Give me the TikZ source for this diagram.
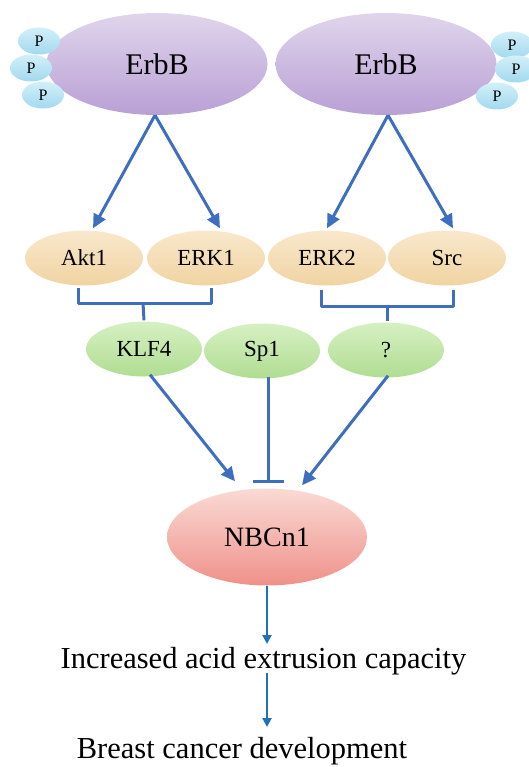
\documentclass[tikz,border=0pt]{standalone}
\usepackage{fontspec}
\setmainfont{Liberation Serif}
\usetikzlibrary{shapes.geometric,arrows.meta,calc}
\definecolor{arrowblue}{HTML}{3D6EC0}
\definecolor{lowblue}{HTML}{2270B8}
\definecolor{purpL}{HTML}{E0D5EC}
\definecolor{purpD}{HTML}{B9A0D5}
\definecolor{cyanL}{HTML}{D2F0F9}
\definecolor{cyanD}{HTML}{A2D9EE}
\definecolor{orangeL}{HTML}{F9E8CC}
\definecolor{orangeD}{HTML}{F0D3A2}
\definecolor{greenL}{HTML}{D6F0C2}
\definecolor{greenD}{HTML}{B0DD92}
\definecolor{pinkL}{HTML}{FADAD4}
\definecolor{pinkD}{HTML}{EF918A}
\tikzset{
  blob/.style={ellipse, inner sep=0pt, shading=axis, shading angle=-40, text=black},
  erbb/.style={blob, minimum width=221pt, minimum height=102pt, top color=purpL, bottom color=purpD, font=\fontsize{30}{32}\selectfont},
  pnode/.style={blob, minimum width=42pt, minimum height=27pt, top color=cyanL, bottom color=cyanD, font=\fontsize{16}{18}\selectfont},
  kin/.style={blob, minimum width=118pt, minimum height=55pt, top color=orangeL, bottom color=orangeD, font=\fontsize{23}{25}\selectfont},
  tf/.style={blob, minimum width=116pt, minimum height=55pt, top color=greenL, bottom color=greenD, font=\fontsize{23}{25}\selectfont},
  nbc/.style={blob, minimum width=200pt, minimum height=97pt, top color=pinkL, bottom color=pinkD, font=\fontsize{28}{30}\selectfont},
  outtext/.style={anchor=base, inner sep=0pt, font=\fontsize{30.5}{33}\selectfont},
  act/.style={draw=arrowblue, line width=3pt, -{Triangle[length=14pt,width=13pt]}},
  inh/.style={draw=arrowblue, line width=3pt, -{Bar[width=31pt]}},
  brk/.style={draw=arrowblue, line width=3pt, line join=round},
  lowarr/.style={draw=lowblue, line width=2.2pt, -{Triangle[length=9pt,width=9pt]}}
}
\begin{document}
\begin{tikzpicture}[x=1pt,y=-1pt]
\useasboundingbox (0,0) rectangle (528,767);
% receptors
\node[erbb] (erbL) at (157,64) {ErbB};
\node[erbb] (erbR) at (386,64) {ErbB};
\node[pnode] (pl1) at (39,41) {P};
\node[pnode] (pl2) at (31,68) {P};
\node[pnode] (pl3) at (43,95) {P};
\node[pnode] (pr1) at (512,45) {P};
\node[pnode] (pr2) at (516,69) {P};
\node[pnode] (pr3) at (497,96) {P};
% kinases
\node[kin] (akt) at (84,258) {Akt1};
\node[kin] (erk1) at (206,258) {ERK1};
\node[kin] (erk2) at (327,258) {ERK2};
\node[kin] (src) at (447,258) {Src};
% transcription factors
\node[tf] (klf) at (144,349) {KLF4};
\node[tf] (sp) at (262,351) {Sp1};
\node[tf] (unk) at (386,350) {?};
% NBCn1
\node[nbc] (nbc) at (267,537) {NBCn1};
% outputs
\node[outtext] (acid) at (263.5,668) {Increased acid extrusion capacity};
\node[outtext] (bc) at (242,758) {Breast cancer development};
% ErbB -> kinases
\draw[act] ([xshift=-2pt]erbL.south) -- ([xshift=9pt,yshift=2pt]akt.north);
\draw[act] ([xshift=-2pt]erbL.south) -- ([xshift=14pt,yshift=2pt]erk1.north);
\draw[act] ([xshift=2pt]erbR.south) -- ([xshift=0pt,yshift=2pt]erk2.north);
\draw[act] ([xshift=2pt]erbR.south) -- ([xshift=6pt,yshift=2pt]src.north);
% brackets
\coordinate (bl) at ($(akt.south)+(-6,303-285)$);
\draw[brk] ([xshift=-6pt,yshift=-2pt]akt.south) -- (bl) -- ($(erk1.south)+(5,303-285)$) -- ([xshift=5pt,yshift=-2pt]erk1.south);
\draw[brk] (143,303) -- ([yshift=1pt]klf.north);
\draw[brk] ([xshift=-6pt,yshift=-4pt]erk2.south) -- ($(erk2.south)+(-6,306-285)$) -- ($(src.south)+(6,306-285)$) -- ([xshift=6pt,yshift=-4pt]src.south);
\draw[brk] (387,306) -- ([yshift=1pt,xshift=1pt]unk.north);
% TFs -> NBCn1
\draw[act] ([xshift=6pt,yshift=2pt]klf.south) -- ([xshift=-32pt,yshift=7pt]nbc.north);
\draw[inh] ([xshift=6pt,yshift=2pt]sp.south) -- ([xshift=1pt,yshift=5pt]nbc.north);
\draw[act] ([xshift=2pt,yshift=2pt]unk.south) -- ([xshift=35pt,yshift=3pt]nbc.north);
% outputs
\draw[lowarr] (nbc.south) -- (267,644);
\draw[lowarr] (267,673) -- (267,727);
\end{tikzpicture}
\end{document}
